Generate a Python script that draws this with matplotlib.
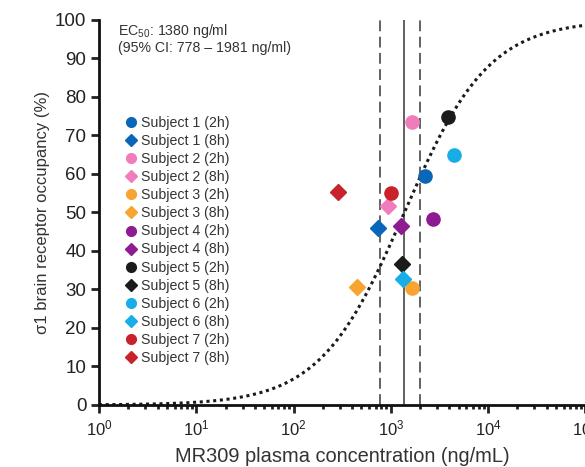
import numpy as np
import matplotlib
matplotlib.use("Agg")
import matplotlib.pyplot as plt
from matplotlib.lines import Line2D

plt.rcParams['font.family'] = ['Liberation Sans', 'DejaVu Sans']
plt.rcParams['mathtext.fontset'] = 'custom'
plt.rcParams['mathtext.rm'] = 'Liberation Sans'
plt.rcParams['mathtext.it'] = 'Liberation Sans:italic'
plt.rcParams['mathtext.bf'] = 'Liberation Sans:bold'

subjects = ["Subject 1", "Subject 2", "Subject 3", "Subject 4", "Subject 5", "Subject 6", "Subject 7"]
colors = ["#0a66b8", "#f07cbc", "#f7a530", "#8e1b91", "#1b1b1b", "#17aee8", "#c8222a"]

conc_2h = [2260, 1640, 1660, 2690, 3840, 4450, 1000]
occ_2h = [59.6, 73.6, 30.5, 48.2, 74.9, 64.9, 55.1]
conc_8h = [742, 927, 445, 1260, 1310, 1340, 284]
occ_8h = [45.9, 51.7, 30.6, 46.6, 36.6, 32.6, 55.4]

ec50 = 1380
ci_low = 778
ci_high = 1981
emax = 100
hill = 1.0

x_ticks = [1, 10, 100, 1000, 10000, 100000]
y_ticks = [0, 10, 20, 30, 40, 50, 60, 70, 80, 90, 100]

fig = plt.figure(figsize=(5.85, 4.67), dpi=100)
ax = fig.add_axes([0.1692, 0.1328, 0.8313, 0.8244])

xs = np.logspace(0, 5, 400)
ys = emax * xs**hill / (xs**hill + ec50**hill)
ax.plot(xs, ys, color="#1a1a1a", linestyle=(0, (1, 1.2)), linewidth=2.2, zorder=2)

ax.axvline(ec50, color="#555555", linewidth=1.3, zorder=1)
ax.axvline(ci_low, color="#555555", linewidth=1.3, linestyle=(0, (6, 3)), zorder=1)
ax.axvline(ci_high, color="#555555", linewidth=1.3, linestyle=(0, (6, 3)), zorder=1)

for i, s in enumerate(subjects):
    ax.plot(conc_2h[i], occ_2h[i], 'o', color=colors[i], markersize=9.5, zorder=3, linestyle='none')
    ax.plot(conc_8h[i], occ_8h[i], 'D', color=colors[i], markersize=8.3, zorder=3, linestyle='none')

handles = []
labels = []
for i, s in enumerate(subjects):
    handles.append(Line2D([], [], marker='o', color=colors[i], linestyle='none', markersize=7))
    labels.append(f"{s} (2h)")
    handles.append(Line2D([], [], marker='D', color=colors[i], linestyle='none', markersize=6))
    labels.append(f"{s} (8h)")

leg = ax.legend(handles, labels, loc='upper left', bbox_to_anchor=(0.058, 0.75), frameon=False,
                fontsize=10.2, handlelength=0.6, handletextpad=0.4, labelspacing=0.285,
                borderpad=0, borderaxespad=0)
for t in leg.get_texts():
    t.set_color("#333333")

ax.text(0.040, 0.995, "EC$_{50}$: 1380 ng/ml\n(95% CI: 778 \u2013 1981 ng/ml)", transform=ax.transAxes,
        fontsize=10.2, va='top', ha='left', color="#333333", linespacing=1.1)

ax.set_xscale('log')
ax.set_xlim(1, 1e5)
ax.set_ylim(0, 100)
ax.set_xticks(x_ticks)
ax.set_yticks(y_ticks)
ax.tick_params(axis='both', which='major', length=6, width=2, direction='out', colors="#222222")
ax.tick_params(axis='x', which='major', labelsize=12)
ax.tick_params(axis='y', which='major', labelsize=13.5, pad=3)
ax.tick_params(axis='x', which='minor', length=3, width=2, colors="#222222")

for side in ['top', 'right']:
    ax.spines[side].set_visible(False)
for side in ['left', 'bottom']:
    ax.spines[side].set_linewidth(2)
    ax.spines[side].set_color("#111111")

ax.set_xlabel("MR309 plasma concentration (ng/mL)", fontsize=14.4, color="#333333", labelpad=6.5)
ax.set_ylabel("\u03c31 brain receptor occupancy (%)", fontsize=12, color="#333333", labelpad=4)

fig.savefig("out.png", dpi=100)
